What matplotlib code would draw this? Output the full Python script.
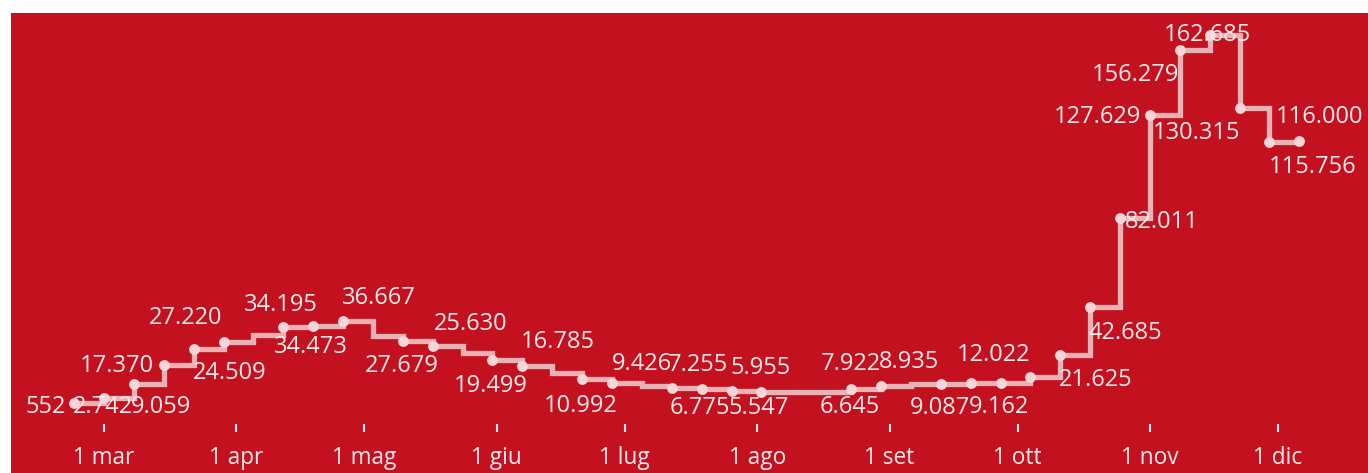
import matplotlib
matplotlib.use("Agg")
import numpy as np
import pandas as pd
import matplotlib.pyplot as plt
import matplotlib.dates as mdates
from matplotlib.patches import Rectangle

# nuovi casi settimanali (settimane che finiscono la domenica)
first_week = "2020-02-23"
cases = [552, 2742, 9059, 17370, 24509, 27220, 30500, 34195, 34473, 36667,
         30100, 27679, 25630, 22600, 19499, 16785, 13800, 10992, 9426, 8000,
         7255, 6775, 5955, 5547, 5200, 5400, 6645, 7922, 8935, 9087,
         9300, 9162, 12022, 21625, 42685, 82011, 127629, 156279, 162685, 130315,
         115756, 116000]
weeks = pd.date_range(first_week, periods=len(cases), freq="7D")

tick_dates = ["2020-03-01", "2020-04-01", "2020-05-01", "2020-06-01", "2020-07-01",
              "2020-08-01", "2020-09-01", "2020-10-01", "2020-11-01", "2020-12-01"]
tick_labels = ["1 mar", "1 apr", "1 mag", "1 giu", "1 lug",
               "1 ago", "1 set", "1 ott", "1 nov", "1 dic"]

# settimane senza pallino
no_marker = [6, 10, 13, 16, 19, 24, 25, 28]

# posizione delle etichette: indice -> spostamento in pixel (dx, dy)
label_pos = {
    0: (-28, -4), 1: (-1, -9), 2: (27, -23), 3: (-47, -1), 4: (36, -24),
    5: (-38, 24), 7: (-2, 22), 8: (-2, -21), 9: (36, 23), 11: (-1, -25),
    12: (38, 22), 14: (-2, -26), 15: (35, 24), 17: (-1, -27), 18: (30, 19),
    20: (26, 23), 21: (-2, -19), 22: (29, 23), 23: (-3, -16), 26: (-1, -18),
    27: (-30, 22), 28: (-2, 22), 29: (-1, -24), 31: (-2, -24), 32: (-37, 22),
    33: (35, -25), 34: (35, -26), 35: (42, -4), 36: (-52, -2), 37: (-44, -25),
    38: (-2, 0), 39: (-43, -25), 40: (43, -25), 41: (20, 24),
}

red = "#c4111f"
txt = "#f8eaeb"
plt.rcParams["font.family"] = ["Open Sans", "DejaVu Sans"]

W, H = 1368, 473
fig = plt.figure(figsize=(W / 100, H / 100), dpi=100)
fig.patch.set_facecolor("white")
fig.patches.append(Rectangle((11 / W, 0), 1, 1 - 13 / H, transform=fig.transFigure,
                             facecolor=red, edgecolor="none", antialiased=False,
                             zorder=-10))

ax = fig.add_axes([0, 41 / H, 1, 1 - 41 / H])
ax.set_facecolor("none")
ax.set_zorder(1)

ax.plot(weeks, cases, drawstyle="steps-post", color="white", alpha=0.68,
        linewidth=3.8, solid_joinstyle="miter", zorder=2)
marked = [i for i in range(len(cases)) if i not in no_marker]
ax.plot(weeks[marked], np.array(cases)[marked], "o", color="#f5d5d8",
        markersize=7.8, markeredgewidth=0, zorder=3)

for i, (dx, dy) in label_pos.items():
    ax.annotate(f"{cases[i]:,}".replace(",", "."), (weeks[i], cases[i]),
                xytext=(dx, dy), textcoords="offset pixels",
                ha="center", va="center", fontsize=17, color=txt, zorder=4)

# scala: 1 mar -> x=104 px, 1 dic -> x=1278 px
px_day = (1278 - 104) / 275
x0 = mdates.date2num(pd.Timestamp("2020-03-01")) - 104 / px_day
ax.set_xlim(x0, x0 + W / px_day)
per_px = (162685 - 552) / 368
y0 = 552 - 29 * per_px
ax.set_ylim(y0, y0 + (H - 41) * per_px)

ax.set_xticks(pd.to_datetime(tick_dates))
ax.set_xticklabels(tick_labels)
ax.tick_params(axis="x", direction="in", length=5.8, width=1.5, color=txt,
               labelcolor=txt, labelsize=16.3, pad=10)
ax.set_yticks([])
for s in ax.spines.values():
    s.set_visible(False)

fig.savefig("out.png", dpi=100)
